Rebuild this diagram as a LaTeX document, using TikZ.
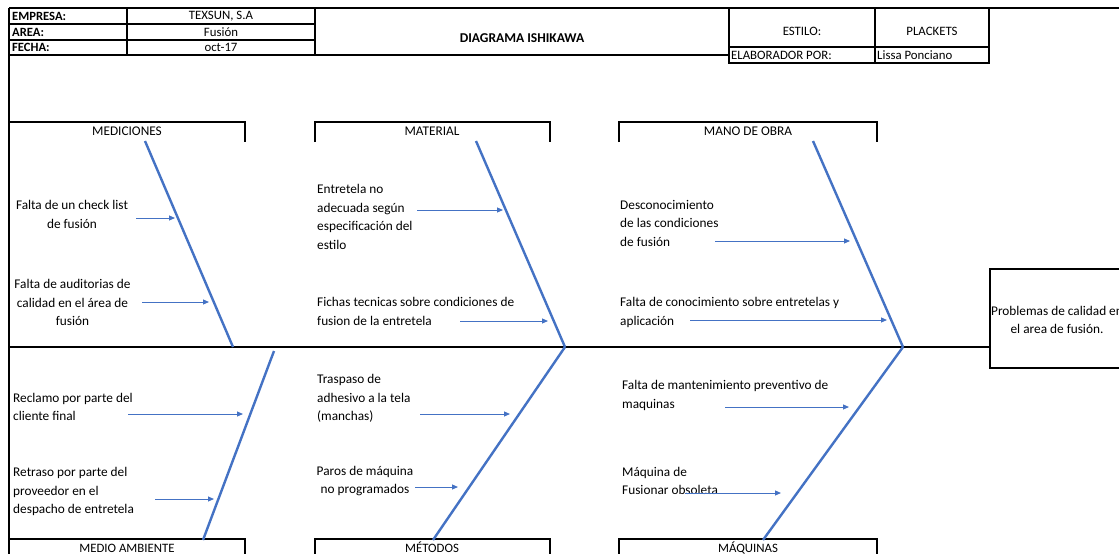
\documentclass[tikz,border=0pt]{standalone}
\usepackage{fontspec}
\setmainfont{Carlito}
\usetikzlibrary{arrows.meta}
\definecolor{boneblue}{HTML}{4472C4}

\begin{document}
\begin{tikzpicture}[x=1pt,y=-1pt,
  every node/.style={font=\fontsize{13.3}{18.5}\selectfont,inner sep=0pt},
  frame/.style={line width=2pt,black},
  grid/.style={line width=1.3pt,black},
  bone/.style={line width=2.4pt,boneblue},
  cause/.style={line width=1pt,boneblue,-{Triangle[length=6pt,width=5pt]}},
  hdr/.style={font=\fontsize{12.6}{14}\selectfont\bfseries},
  cell/.style={font=\fontsize{12.8}{14}\selectfont},
  txt/.style={align=left,anchor=west},
  txtc/.style={align=center}]
\clip (0,0) rectangle (1119,554);
\fill[white] (0,0) rectangle (1119,554);

% header table
\draw[frame] (9,8) -- (1119,8);
\draw[frame] (9,8) -- (9,554);
\draw[grid] (9,24) -- (315,24) (9,40) -- (315,40);
\draw[grid] (127,8) -- (127,55) (315,8) -- (315,55);
\draw[frame] (9,55) -- (729,55);
\draw[frame] (729,8) rectangle (989,63);
\draw[grid] (729,47) -- (989,47) (875,8) -- (875,63);
\node[hdr,anchor=west] (empL) at (12,16.5) {EMPRESA:};
\node[cell] (empV) at (221,16.5) {TEXSUN, S.A};
\node[hdr,anchor=west] (areaL) at (12,32) {AREA:};
\node[cell] (areaV) at (221,32) {Fusión};
\node[hdr,anchor=west] (fechaL) at (12,47.5) {FECHA:};
\node[cell] (fechaV) at (221,47.5) {oct-17};
\node[hdr,font=\fontsize{13.5}{15}\selectfont\bfseries] (title) at (522,38) {DIAGRAMA ISHIKAWA};
\node[cell] (estL) at (802,31) {ESTILO:};
\node[cell] (estV) at (932,31) {PLACKETS};
\node[cell,anchor=west] (elabL) at (731,55) {ELABORADOR POR:};
\node[cell,anchor=west] (elabV) at (877,55) {Lissa Ponciano};

% category boxes
\draw[frame] (9,142) |- (245,122) -- (245,142);
\draw[frame] (315,142) |- (550,122) -- (550,142);
\draw[frame] (619,142) |- (877,122) -- (877,142);
\draw[frame] (9,554) |- (245,539) -- (245,554);
\draw[frame] (315,554) |- (550,539) -- (550,554);
\draw[frame] (619,554) |- (877,539) -- (877,554);
\node (med) at (127,131) {MEDICIONES};
\node (mat) at (432,131) {MATERIAL};
\node (mano) at (748,131) {MANO DE OBRA};
\node[cell,anchor=base] (amb) at (127,552) {MEDIO AMBIENTE};
\node[cell,anchor=base] (met) at (432,552) {MÉTODOS};
\node[cell,anchor=base] (maq) at (748,552) {MÁQUINAS};

% effect and spine
\node[draw,line width=2pt,minimum width=140pt,minimum height=99pt,anchor=west,align=center] (efecto) at (989,318) {};
\node[align=center] (efectoT) at (1057,320) {Problemas de calidad en\\el area de fusión.};
\coordinate (spL) at (9,347);
\draw[frame] (spL) -- (efecto.west |- spL);

% bones
\coordinate (medT) at (145,141);  \coordinate (medS) at (233,347);
\coordinate (matT) at (476,141);  \coordinate (matS) at (565,347);
\coordinate (manoT) at (813,141); \coordinate (manoS) at (903,347);
\coordinate (ambT) at (274,351);  \coordinate (ambB) at (203,540);
\coordinate (metT) at (565,347);  \coordinate (metB) at (433,540);
\coordinate (maqT) at (903,347);  \coordinate (maqB) at (763,540);
\draw[bone] (medT) -- (medS);
\draw[bone] (matT) -- (matS);
\draw[bone] (manoT) -- (manoS);
\draw[bone] (ambT) -- (ambB);
\draw[bone] (metT) -- (metB);
\draw[bone] (maqT) -- (maqB);

% causes, top row
\node[txtc] (c1) at (72,214.5) {Falta de un check list\\de fusión};
\node[txtc] (c2) at (72.5,302.5) {Falta de auditorias de\\calidad en el área de\\fusión};
\node[txt] (c3) at (317,217) {Entretela no\\adecuada según\\especificación del\\estilo};
\node[txt] (c4) at (317,311.5) {Fichas tecnicas sobre condiciones de\\fusion de la entretela};
\node[txt] (c5) at (620,223) {Desconocimiento\\de las condiciones\\de fusión};
\node[txt] (c6) at (620,312.5) {Falta de conocimiento sobre entretelas y\\aplicación};
% causes, bottom row
\node[txt] (c7) at (13,407) {Reclamo por parte del\\cliente final};
\node[txt] (c8) at (13,491.5) {Retraso por parte del\\proveedor en el\\despacho de entretela};
\node[txt] (c9) at (317,398.5) {Traspaso de\\adhesivo a la tela\\(manchas)};
\node[txtc] (c10) at (365,481) {Paros de máquina\\no programados};
\node[txt] (c11) at (622,395.5) {Falta de mantenimiento preventivo de\\maquinas};
\node[txt] (c12) at (622,481) {Máquina de\\Fusionar obsoleta};

% cause arrows
\coordinate (a1) at (136,218);  \coordinate (b1) at (175,218);
\coordinate (a2) at (142,302);  \coordinate (b2) at (209,302);
\coordinate (a3) at (417,210);  \coordinate (b3) at (503,210);
\coordinate (a4) at (460,321);  \coordinate (b4) at (548,321);
\coordinate (a5) at (715,241);  \coordinate (b5) at (850,241);
\coordinate (a6) at (690,320);  \coordinate (b6) at (887,320);
\coordinate (a7) at (128,414);  \coordinate (b7) at (243,414);
\coordinate (a8) at (155,499);  \coordinate (b8) at (214,499);
\coordinate (a9) at (420,414);  \coordinate (b9) at (510,414);
\coordinate (a10) at (415,487); \coordinate (b10) at (458,487);
\coordinate (a11) at (725,407); \coordinate (b11) at (849,407);
\coordinate (a12) at (685,493); \coordinate (b12) at (781,493);
\foreach \i in {1,...,12}
  \draw[cause] (a\i) -- (b\i);
\end{tikzpicture}
\end{document}
